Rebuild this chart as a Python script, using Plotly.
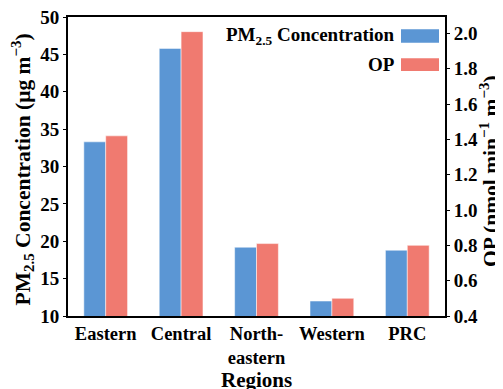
import plotly.graph_objects as go

regions = ["Eastern", "Central", "North-<br>eastern", "Western", "PRC"]
pm25 = [33.3, 45.8, 19.2, 12.0, 18.8]
op = [1.42, 2.01, 0.81, 0.50, 0.80]

left_ticks = [10, 15, 20, 25, 30, 35, 40, 45, 50]
right_ticks = [0.4, 0.6, 0.8, 1.0, 1.2, 1.4, 1.6, 1.8, 2.0]

x_title = "Regions"
y_title = "PM<sub>2.5</sub> Concentration (μg m<sup>−3</sup>)"
y2_title = "OP (nmol min<sup>−1</sup> m<sup>−3</sup>)"

BLUE = "#5B96D4"
RED = "#F07A70"
FONT = "Liberation Serif"

# the page body has an 8px margin; size the figure to fill the 503x389 window
OFF = 8
W, H = 503 - OFF, 389 - OFF
# plot area in window pixels: x 68..445, y 17..316
ML, MT = 68 - OFF, 17 - OFF
MR = W - (445 - OFF)
MB = H - (316 - OFF)
PW, PH = W - ML - MR, H - MT - MB


def px_x(px):
    return (px - OFF - ML) / PW


def px_y(py):
    return (H - MB - (py - OFF)) / PH


fig = go.Figure()
fig.add_trace(go.Bar(x=regions, y=pm25, name="PM<sub>2.5</sub> Concentration",
                     marker=dict(color=BLUE, line=dict(color="white", width=0.5)),
                     offsetgroup="a", yaxis="y"))
fig.add_trace(go.Bar(x=regions, y=op, name="OP",
                     marker=dict(color=RED, line=dict(color="white", width=0.5)),
                     offsetgroup="b", yaxis="y2"))

axis_font = dict(family=FONT, size=19, color="black", weight="bold")
xtick_font = dict(family=FONT, size=18.5, color="black", weight="bold")
title_font = dict(family=FONT, size=21.5, color="black", weight="bold")

fig.update_layout(
    width=W, height=H,
    margin=dict(l=ML, r=MR, t=MT, b=MB, pad=0),
    paper_bgcolor="white", plot_bgcolor="white",
    barmode="group", bargap=0.42, bargroupgap=0,
    showlegend=False,
    font=dict(family=FONT, color="black"),
    xaxis=dict(
        tickfont=xtick_font, showline=True, linecolor="black", linewidth=2,
        mirror=True, ticks="", showgrid=False, automargin=False,
    ),
    yaxis=dict(
        range=[10, 50], tickvals=left_ticks, tickfont=axis_font,
        showline=True, linecolor="black", linewidth=2, ticks="outside", ticklen=3,
        tickwidth=1, tickcolor="black", showgrid=False, zeroline=False, automargin=False,
        ticklabeloverflow="allow",
    ),
    yaxis2=dict(
        overlaying="y", side="right", range=[0.4, 2.093], tickvals=right_ticks,
        tickformat=".1f", tickfont=axis_font,
        showline=True, linecolor="black", linewidth=2, ticks="outside", ticklen=3,
        tickwidth=1, tickcolor="black", showgrid=False, zeroline=False, automargin=False,
        ticklabeloverflow="allow",
    ),
)

# axis titles
fig.add_annotation(xref="paper", yref="paper", x=0.5, y=px_y(379.5), text=x_title,
                   showarrow=False, xanchor="center", yanchor="middle",
                   font=dict(family=FONT, size=21, color="black", weight="bold"))
fig.add_annotation(xref="paper", yref="paper", x=px_x(22.5), y=px_y(170), text=y_title,
                   showarrow=False, textangle=-90, xanchor="center", yanchor="middle",
                   font=title_font)
fig.add_annotation(xref="paper", yref="paper", x=px_x(489), y=px_y(171), text=y2_title,
                   showarrow=False, textangle=-90, xanchor="center", yanchor="middle",
                   font=title_font)

# manual legend (text left, swatch right)
legend_items = [("PM<sub>2.5</sub> Concentration", BLUE, 29.3, 42.7),
                ("OP", RED, 58.3, 71.0)]
for label, color, top, bottom in legend_items:
    fig.add_shape(type="rect", xref="paper", yref="paper", x0=px_x(401), x1=px_x(439),
                  y0=px_y(bottom), y1=px_y(top), fillcolor=color, line=dict(width=0))
    fig.add_annotation(xref="paper", yref="paper", x=px_x(397), y=px_y((top + bottom) / 2),
                       xanchor="right", yanchor="middle", showarrow=False,
                       text=label, font=dict(family=FONT, size=19, color="black", weight="bold"))

fig.write_html("out.html")
